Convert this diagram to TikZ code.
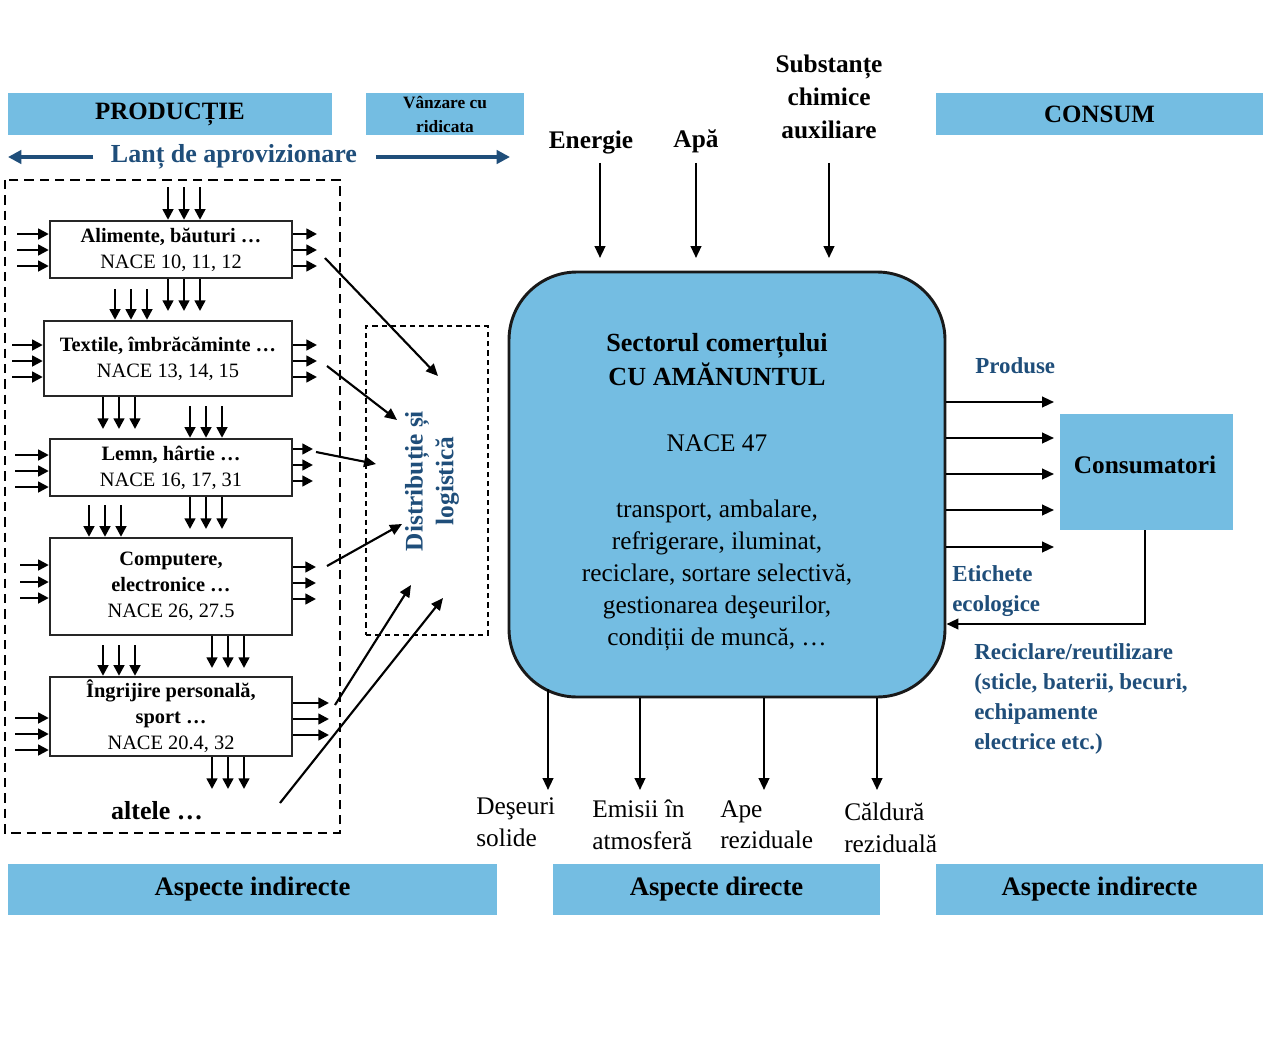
\documentclass[tikz,border=0pt]{standalone}
\usepackage{fontspec}
\setmainfont{Liberation Serif}
\usetikzlibrary{arrows.meta,calc}
\definecolor{bannerblue}{HTML}{74BDE2}
\definecolor{darkblue}{HTML}{1F4E7A}
\newcommand\pxu[1]{#1*0.75pt}
\newcommand\fs[2]{\fontsize{#1}{#2}\selectfont}
\begin{document}
\begin{tikzpicture}[x=0.75pt,y=-0.75pt,
  banner/.style={fill=bannerblue, inner sep=0pt, font=\bfseries\fs{18.7}{22}},
  pbox/.style={draw=black!85, line width=1.8pt, fill=white, inner sep=0pt, align=center, font=\fs{15.3}{19.5}},
  sarr/.style={line width=1.8pt, -{Triangle[length=8pt,width=8pt]}},
  larr/.style={line width=1.6pt, -{Triangle[length=9pt,width=8pt]}},
  barr/.style={line width=2.8pt, darkblue, -{Triangle[length=10pt,width=10pt]}},
  bluelab/.style={text=darkblue, font=\bfseries\fs{17.2}{22.5}, align=left, inner sep=0pt},
  blacklab/.style={font=\fs{19}{24}, align=left, inner sep=0pt},
  toplab/.style={font=\bfseries\fs{19}{25}, align=center, inner sep=0pt},
  ctext/.style={font=\fs{19}{24}, align=center, inner sep=0pt}
]
\useasboundingbox[fill=white] (0,0) rectangle (1270,1052);

% ---------- banners
\node[banner, minimum width=\pxu{324}, minimum height=\pxu{42}] (prod) at (170,114) {PRODUCȚIE};
\node[banner, minimum width=\pxu{158}, minimum height=\pxu{42}, align=center, font=\bfseries\fs{13}{18}] (vanz) at (445,114) {Vânzare cu\\ridicata};
\node[banner, minimum width=\pxu{327}, minimum height=\pxu{42}] (cons0) at (1099.5,114) {CONSUM};
\node[banner, minimum width=\pxu{489}, minimum height=\pxu{51}, font=\bfseries\fs{20}{22}] (ai1) at (252.5,889.5) {Aspecte indirecte};
\node[banner, minimum width=\pxu{327}, minimum height=\pxu{51}, font=\bfseries\fs{20}{22}] (ad) at (716.5,889.5) {Aspecte directe};
\node[banner, minimum width=\pxu{327}, minimum height=\pxu{51}, font=\bfseries\fs{20}{22}] (ai2) at (1099.5,889.5) {Aspecte indirecte};

% ---------- supply chain
\node[text=darkblue, font=\bfseries\fs{19.5}{22}, inner sep=0pt] (lant) at (234,157) {Lanț de aprovizionare};
\draw[barr] ([xshift=-13pt]lant.west) -- (8,157);
\draw[barr] ([xshift=14pt]lant.east) -- (510,157);

% ---------- production column
\draw[dashed, dash pattern=on 7pt off 4.5pt, line width=1.4pt] (5,180) rectangle (340,833);

\node[pbox, minimum width=\pxu{242}, minimum height=\pxu{57}] (b1) at (171,249.5) {\textbf{Alimente, băuturi \ldots}\\NACE 10, 11, 12};
\node[pbox, minimum width=\pxu{248}, minimum height=\pxu{75}] (b2) at (168,358.5) {\textbf{Textile, îmbrăcăminte \ldots}\\NACE 13, 14, 15};
\node[pbox, minimum width=\pxu{242}, minimum height=\pxu{57}] (b3) at (171,467.5) {\textbf{Lemn, hârtie \ldots}\\NACE 16, 17, 31};
\node[pbox, minimum width=\pxu{242}, minimum height=\pxu{97}] (b4) at (171,586.5) {\textbf{Computere,}\\\textbf{electronice \ldots}\\NACE 26, 27.5};
\node[pbox, minimum width=\pxu{242}, minimum height=\pxu{79}] (b5) at (171,716.5) {\textbf{Îngrijire personală,}\\\textbf{sport \ldots}\\NACE 20.4, 32};
\node[font=\bfseries\fs{19.5}{22}, inner sep=0pt] (alt) at (157,811) {altele \ldots};

% box 1
\foreach \x in {168,184,200} {
  \draw[sarr] (\x,187) -- (\x,0 |- b1.north);
  \draw[sarr] (\x,0 |- b1.south) -- (\x,311);
}
\foreach \y in {234,250,266} {
  \draw[sarr] (17,\y) -- (b1.west |- 0,\y);
  \draw[sarr] (b1.east |- 0,\y) -- (317,\y);
}
% box 2
\foreach \x in {115,131,147} \draw[sarr] (\x,289) -- (\x,0 |- b2.north);
\foreach \x in {103,119,135} \draw[sarr] (\x,0 |- b2.south) -- (\x,429);
\foreach \y in {345,361,377} {
  \draw[sarr] (12,\y) -- (b2.west |- 0,\y);
  \draw[sarr] (b2.east |- 0,\y) -- (317,\y);
}
% box 3
\foreach \x in {190,206,222} {
  \draw[sarr] (\x,406) -- (\x,0 |- b3.north);
  \draw[sarr] (\x,0 |- b3.south) -- (\x,529);
}
\foreach \y in {455,471,487} \draw[sarr] (15,\y) -- (b3.west |- 0,\y);
\foreach \y in {449,465,481} \draw[sarr] (b3.east |- 0,\y) -- (313,\y);
% box 4
\foreach \x in {89,105,121} \draw[sarr] (\x,505) -- (\x,0 |- b4.north);
\foreach \x in {212,228,244} \draw[sarr] (\x,0 |- b4.south) -- (\x,668);
\foreach \y in {565,582,598} \draw[sarr] (20,\y) -- (b4.west |- 0,\y);
\foreach \y in {567,583,599} \draw[sarr] (b4.east |- 0,\y) -- (316,\y);
% box 5
\foreach \x in {103,119,135} \draw[sarr] (\x,645) -- (\x,0 |- b5.north);
\foreach \x in {212,228,244} \draw[sarr] (\x,0 |- b5.south) -- (\x,789);
\foreach \y in {718,734,750} \draw[sarr] (15,\y) -- (b5.west |- 0,\y);
\foreach \y in {703,719,735} \draw[sarr] (b5.east |- 0,\y) -- (329,\y);

% ---------- distribution
\node[draw, dashed, dash pattern=on 4pt off 3pt, line width=1.3pt, minimum width=\pxu{122}, minimum height=\pxu{309}, inner sep=0pt] (dist) at (427,480.5) {};
\node[rotate=90, text=darkblue, font=\bfseries\fs{19}{23}, align=center, inner sep=0pt] (distt) at (432,481) {Distribuție și\\logistică};

\coordinate (s1) at (325,258); \coordinate (e1) at (438,376);
\coordinate (s2) at (327,366); \coordinate (e2) at (397,420);
\coordinate (s3) at (316,452); \coordinate (e3) at (376,464);
\coordinate (s4) at (327,566); \coordinate (e4) at (402,524);
\coordinate (s5) at (335,705); \coordinate (e5) at (411,585);
\coordinate (s6) at (280,803); \coordinate (e6) at (443,598);
\foreach \i in {1,...,6} \draw[larr] (s\i) -- (e\i);

% ---------- central sector
\node[draw=black!90, line width=2.2pt, fill=bannerblue, rounded corners=\pxu{68}, minimum width=\pxu{436}, minimum height=\pxu{425}, inner sep=0pt] (ctr) at (727,484.5) {};
\node[ctext, font=\bfseries\fs{19.6}{25.5}] (c1) at (717,360) {Sectorul comerțului\\CU AMĂNUNTUL};
\node[ctext] (c2) at (717,443) {NACE 47};
\node[ctext] (c3) at (717,575) {transport, ambalare,\\refrigerare, iluminat,\\reciclare, sortare selectivă,\\gestionarea deşeurilor,\\condiții de muncă, \ldots};

% inputs
\node[toplab] (en) at (591,143) {Energie};
\node[toplab] (apa) at (696,141) {Apă};
\node[toplab] (sub) at (829,97) {Substanțe\\chimice\\auxiliare};
\coordinate (ien) at (600,258);
\coordinate (iapa) at (696,258);
\coordinate (isub) at (829,258);
\draw[larr] (600,163) -- (ien);
\draw[larr] (696,163) -- (iapa);
\draw[larr] (829,163) -- (isub);

% outputs right
\node[draw=none, fill=bannerblue, minimum width=\pxu{173}, minimum height=\pxu{116}, inner sep=0pt] (cons) at (1146.5,472) {};
\node[font=\bfseries\fs{19}{22}, inner sep=0pt] (const) at (1145,465) {Consumatori};
\foreach \y in {402,438,474,510,547} \draw[larr] (ctr.east |- 0,\y) -- (1054,\y);
\node[bluelab, anchor=west] (prodl) at (975,366) {Produse};
\draw[line width=1.6pt, -{Triangle[length=9pt,width=8pt]}] (1145,0 |- cons.south) |- (ctr.east |- 0,624);
\node[bluelab, anchor=north west] (etl) at (952,565) {Etichete\\ecologice};
\node[bluelab, anchor=north west] (recl) at (974,643) {Reciclare/reutilizare\\(sticle, baterii, becuri,\\echipamente\\electrice etc.)};

% outputs bottom
\draw[larr] (548,689) -- (548,790);
\foreach \x in {640,764,877} \draw[larr] (\x,0 |- ctr.south) -- (\x,790);
\node[blacklab, anchor=north west] (o1) at (476,797) {Deşeuri\\solide};
\node[blacklab, anchor=north west] (o2) at (592,800) {Emisii în\\atmosferă};
\node[blacklab, anchor=north west] (o3) at (720,800) {Ape\\reziduale};
\node[blacklab, anchor=north west] (o4) at (844,803) {Căldură\\reziduală};
\end{tikzpicture}
\end{document}
